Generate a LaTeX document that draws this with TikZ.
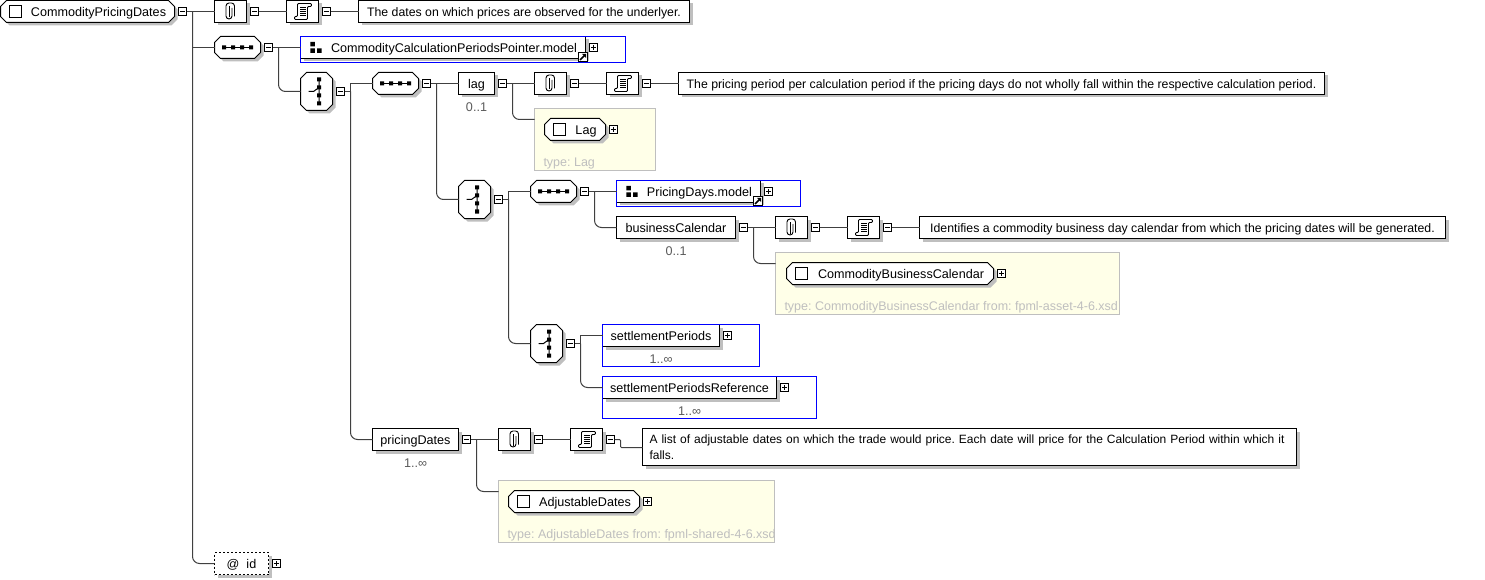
\documentclass[tikz,border=0pt]{standalone}
\usepackage{fontspec}
\setmainfont{Liberation Sans}
\usetikzlibrary{positioning,shadows}

\definecolor{linkgray}{gray}{0.25}
\definecolor{shadegray}{gray}{0.75}
\definecolor{notegray}{gray}{0.75}
\definecolor{occgray}{gray}{0.35}
\definecolor{typeyellow}{RGB}{255,255,232}

\newdimen\octaL
\newdimen\octaR
\newdimen\octaB
\newdimen\octaT
\makeatletter
\pgfdeclareshape{octabox}{
  \inheritsavedanchors[from=rectangle]
  \inheritanchorborder[from=rectangle]
  \inheritanchor[from=rectangle]{center}
  \inheritanchor[from=rectangle]{north}
  \inheritanchor[from=rectangle]{south}
  \inheritanchor[from=rectangle]{east}
  \inheritanchor[from=rectangle]{west}
  \inheritanchor[from=rectangle]{north west}
  \inheritanchor[from=rectangle]{north east}
  \inheritanchor[from=rectangle]{south west}
  \inheritanchor[from=rectangle]{south east}
  \backgroundpath{
    \southwest \octaL=\pgf@x \octaB=\pgf@y
    \northeast \octaR=\pgf@x \octaT=\pgf@y
    \pgfpathmoveto{\pgfpoint{\octaL+6pt}{\octaB}}
    \pgfpathlineto{\pgfpoint{\octaR-6pt}{\octaB}}
    \pgfpathlineto{\pgfpoint{\octaR}{\octaB+6pt}}
    \pgfpathlineto{\pgfpoint{\octaR}{\octaT-6pt}}
    \pgfpathlineto{\pgfpoint{\octaR-6pt}{\octaT}}
    \pgfpathlineto{\pgfpoint{\octaL+6pt}{\octaT}}
    \pgfpathlineto{\pgfpoint{\octaL}{\octaT-6pt}}
    \pgfpathlineto{\pgfpoint{\octaL}{\octaB+6pt}}
    \pgfpathclose
  }
}
\makeatother

\tikzset{
  clipicon/.pic={
    \draw[line width=.9pt,rounded corners=3pt] (1.5,-3.5) -- (1.5,7.5) -- (-4.5,7.5) -- (-4.5,-8.5) -- (4,-8.5) -- (4,5);
    \draw[line width=.9pt,rounded corners=1.5pt] (-1.5,-5.5) -- (-1.5,6);
  },
  docicon/.pic={
    \draw[line width=.9pt,rounded corners=1pt] (-8,5) -- (-5,5) -- (-5,-8) -- (9,-8) -- (9,-5) -- (5,-5) -- (5,8) -- (-8,8) -- cycle;
    \draw[line width=.8pt] (-2.5,-4) -- (3,-4) (-2.5,-2) -- (3,-2) (-2.5,0) -- (3,0) (-2.5,2) -- (3,2) (-2.5,4) -- (3,4);
  },
  seqicon/.pic={
    \draw (-13.5,0) -- (13.5,0);
    \fill (-15.5,-2) rectangle +(4,4) (-6.5,-2) rectangle +(4,4) (2.5,-2) rectangle +(4,4) (11.5,-2) rectangle +(4,4);
  },
  choiceicon/.pic={
    \draw (2.5,-12) -- (2.5,12) (-8,0) -- (-3,0) -- (2.5,-4);
    \fill (.5,-14) rectangle +(4,4) (.5,-6) rectangle +(4,4) (.5,2) rectangle +(4,4) (.5,10) rectangle +(4,4);
  },
  modelicon/.pic={
    \fill (-2.25,-5.5) rectangle +(4.5,4.5) (-2.25,1) rectangle +(4.5,4.5) (4.5,1) rectangle +(4.5,4.5);
  },
  linkicon/.pic={
    \draw[fill=white] (-4.5,-4.5) rectangle (4.5,4.5);
    \draw[line width=1.6pt] (-3,3) -- (1.5,-1.5);
    \fill (3.2,-3.2) -- (-1,-3.2) -- (3.2,1) -- cycle;
  }
}

\begin{document}
\frenchspacing
\begin{tikzpicture}[x=1pt,y=-1pt,line width=1pt,
    font=\fontsize{12.6}{15}\selectfont,
    every node/.style={outer sep=0pt,inner sep=0pt},
    link/.style={draw=linkgray},
    curvelink/.style={draw=linkgray,rounded corners=7pt},
    dropped/.style={drop shadow={shadow xshift=3pt,shadow yshift=-3pt,opacity=1,fill=shadegray}},
    plainbox/.style={draw,fill=white,dropped,anchor=north west,minimum height=22pt},
    wbox/.style={plainbox,text height=10pt,text depth=0pt},
    iconbox/.style={wbox,minimum width=32pt},
    octa/.style={shape=octabox,draw,fill=white,dropped,anchor=north west,minimum height=22pt,text height=10pt,text depth=0pt},
    seqbox/.style={octa,minimum width=46pt},
    choicebox/.style={octa,minimum width=32pt,minimum height=38pt},
    typed/.style={octa,execute at begin node={\hspace{22pt}}},
    blueframe/.style={draw=blue,anchor=north west},
    modelbox/.style={wbox,execute at begin node={\hspace{22pt}}},
    notebox/.style={draw=notegray,fill=typeyellow,anchor=north west,minimum height=62pt},
    typetext/.style={text=notegray,font=\fontsize{12.5}{15}\selectfont},
    sentence/.style={font=\fontsize{12.3}{16}\selectfont},
    occ/.style={text=occgray},
    check/.style={draw,fill=white,minimum size=12pt},
    toggle/.style={draw,fill=white,minimum size=8pt},
    minus/.style={toggle,path picture={\draw[line width=.8pt] (-2.5,0) -- (2.5,0);}},
    plus/.style={toggle,path picture={\draw[line width=.8pt] (-2.5,0) -- (2.5,0) (0,-2.5) -- (0,2.5);}}]

\useasboundingbox (0,0) rectangle (1485,580);

\node[typed,minimum width=174pt] (root) at (.5,.5) {CommodityPricingDates};
\node[check,right=9pt of root.west] (rootcheck) {};
\node[minus,right=4pt of root] (mroot) {};
\node[iconbox] (clip1) at (214.5,.5) {};
\node[minus,right=4pt of clip1] (mclip1) {};
\node[iconbox,right=28pt of mclip1] (doc1) {};
\node[minus,right=4pt of doc1] (mdoc1) {};
\node[wbox,sentence,right=28pt of mdoc1,minimum width=331pt] (text1) {The dates on which prices are observed for the underlyer.};

\node[seqbox] (seq1) at (214.5,36.5) {};
\node[minus,right=4pt of seq1] (mseq1) {};
\node[modelbox,minimum width=285pt] (ref1) at (300.5,36.5) {CommodityCalculationPeriodsPointer.model};
\node[blueframe,minimum width=325pt,minimum height=26pt] (frame1) at (300.5,36.5) {};
\node[plus,right=4pt of ref1] (pref1) {};

\node[choicebox] (choice1) at (300.5,72.5) {};
\node[minus,right=4pt of choice1] (mchoice1) {};
\node[seqbox] (seq2) at (372.5,72.5) {};
\node[minus,right=4pt of seq2] (mseq2) {};

\node[wbox,minimum width=36pt] (lag) at (458.5,72.5) {lag};
\node[occ,below=8pt of lag] (laghow) {0..1};
\node[minus,right=4pt of lag] (mlag) {};
\node[iconbox] (clip2) at (534.5,72.5) {};
\node[minus,right=4pt of clip2] (mclip2) {};
\node[iconbox,right=28pt of mclip2] (doc2) {};
\node[minus,right=4pt of doc2] (mdoc2) {};
\node[wbox,sentence,right=28pt of mdoc2,minimum width=646pt] (text2) {The pricing period per calculation period if the pricing days do not wholly fall within the respective calculation period.};

\node[notebox,minimum width=121pt] (type1) at (534.5,108.5) {};
\node[typed,minimum width=61pt] (lagtype) at (544.5,118.5) {Lag};
\node[check,right=9pt of lagtype.west] (lagcheck) {};
\node[plus,right=4pt of lagtype] (plagtype) {};
\node[typetext,above right=1pt and 9pt of type1.south west] (type1text) {type: Lag};

\node[choicebox] (choice2) at (458.5,180.5) {};
\node[minus,right=4pt of choice2] (mchoice2) {};
\node[seqbox] (seq3) at (530.5,180.5) {};
\node[minus,right=4pt of seq3] (mseq3) {};
\node[modelbox,minimum width=144pt] (ref2) at (616.5,180.5) {PricingDays.model};
\node[blueframe,minimum width=184pt,minimum height=26pt] (frame2) at (616.5,180.5) {};
\node[plus,right=4pt of ref2] (pref2) {};

\node[wbox,minimum width=119pt] (buscal) at (616.5,216.5) {businessCalendar};
\node[occ,below=8pt of buscal] (buscalhow) {0..1};
\node[minus,right=4pt of buscal] (mbuscal) {};
\node[iconbox] (clip3) at (775.5,216.5) {};
\node[minus,right=4pt of clip3] (mclip3) {};
\node[iconbox,right=28pt of mclip3] (doc3) {};
\node[minus,right=4pt of doc3] (mdoc3) {};
\node[wbox,sentence,right=28pt of mdoc3,minimum width=526pt] (text3) {Identifies a commodity business day calendar from which the pricing dates will be generated.};

\node[notebox,minimum width=344pt] (type2) at (775.5,252.5) {};
\node[typed,minimum width=207pt] (caltype) at (786.5,262.5) {CommodityBusinessCalendar};
\node[check,right=9pt of caltype.west] (calcheck) {};
\node[plus,right=4pt of caltype] (pcaltype) {};
\node[typetext,above right=1pt and 9pt of type2.south west] (type2text) {type: CommodityBusinessCalendar from: fpml-asset-4-6.xsd};

\node[choicebox] (choice3) at (530.5,324.5) {};
\node[minus,right=4pt of choice3] (mchoice3) {};
\node[wbox,minimum width=117pt] (settle) at (602.5,324.5) {settlementPeriods};
\node[blueframe,minimum width=157pt,minimum height=42pt] (frame3) at (602.5,324.5) {};
\node[occ,below=8pt of settle] (settlehow) {1..∞};
\node[plus,right=4pt of settle] (psettle) {};
\node[wbox,minimum width=174pt] (settleref) at (602.5,376.5) {settlementPeriodsReference};
\node[blueframe,minimum width=214pt,minimum height=42pt] (frame4) at (602.5,376.5) {};
\node[occ,below=8pt of settleref] (settlerefhow) {1..∞};
\node[plus,right=4pt of settleref] (psettleref) {};

\node[wbox,minimum width=86pt] (pricing) at (372.5,428.5) {pricingDates};
\node[occ,below=8pt of pricing] (pricinghow) {1..∞};
\node[minus,right=4pt of pricing] (mpricing) {};
\node[iconbox] (clip4) at (498.5,428.5) {};
\node[minus,right=4pt of clip4] (mclip4) {};
\node[iconbox,right=28pt of mclip4] (doc4) {};
\node[minus,right=4pt of doc4] (mdoc4) {};
\node[plainbox,font=\fontsize{12}{16}\selectfont,inner xsep=7pt,text width=640pt,align=left,minimum height=37pt] (text4) at (642.5,428.5) {A list of adjustable dates on which the trade would price. Each date will price for the Calculation Period within which it\\falls.};

\node[notebox,minimum width=276pt] (type3) at (498.5,480.5) {};
\node[typed,minimum width=131pt] (adjtype) at (508.5,490.5) {AdjustableDates};
\node[check,right=9pt of adjtype.west] (adjcheck) {};
\node[plus,right=4pt of adjtype] (padjtype) {};
\node[typetext,above right=1pt and 9pt of type3.south west] (type3text) {type: AdjustableDates from: fpml-shared-4-6.xsd};

\node[wbox,dash pattern=on 2pt off 2pt,minimum width=54pt] (id) at (214.5,552.5) {@\hspace{7pt}id\hspace{14pt}};
\node[plus,right=4pt of id] (pid) {};

\pic at (clip1) {clipicon};
\pic at (clip2) {clipicon};
\pic at (clip3) {clipicon};
\pic at (clip4) {clipicon};
\pic at (doc1) {docicon};
\pic at (doc2) {docicon};
\pic at (doc3) {docicon};
\pic at (doc4) {docicon};
\pic at (seq1) {seqicon};
\pic at (seq2) {seqicon};
\pic at (seq3) {seqicon};
\pic at (choice1) {choiceicon};
\pic at (choice2) {choiceicon};
\pic at (choice3) {choiceicon};
\pic at ([xshift=12pt]ref1.west) {modelicon};
\pic at ([xshift=12pt]ref2.west) {modelicon};
\pic at ([shift={(-2.5pt,1.5pt)}]ref1.south east) {linkicon};
\pic at ([shift={(-2.5pt,1.5pt)}]ref2.south east) {linkicon};

\coordinate (j0) at (192.5,11.5);
\coordinate (j1) at (278.5,47.5);
\coordinate (j2) at (350.5,91.5);
\coordinate (j3) at (436.5,83.5);
\coordinate (j4) at (512.5,83.5);
\coordinate (j5) at (508.5,199.5);
\coordinate (j6) at (594.5,191.5);
\coordinate (j7) at (753.5,227.5);
\coordinate (j8) at (580.5,343.5);
\coordinate (j9) at (476.5,439.5);
\coordinate (t1) at (534.5,119.5);
\coordinate (t2) at (775.5,263.5);
\coordinate (t3) at (498.5,491.5);
\coordinate (e4) at (620.5,447.5);

\draw[link] (mroot.east) -- (clip1.west);
\draw[link] (mclip1.east) -- (doc1.west);
\draw[link] (mdoc1.east) -- (text1.west);
\draw[curvelink] (j0) |- (id.west);
\draw[link] (j0 |- seq1.west) -- (seq1.west);

\draw[link] (mseq1.east) -- (ref1.west);
\draw[curvelink] (j1) |- (choice1.west);
\draw[link] (mchoice1.east) -- (j2);
\draw[link] (j2) |- (seq2.west);
\draw[curvelink] (j2) |- (pricing.west);
\draw[link] (mseq2.east) -- (lag.west);
\draw[curvelink] (j3) |- (choice2.west);

\draw[link] (mlag.east) -- (clip2.west);
\draw[link] (mclip2.east) -- (doc2.west);
\draw[link] (mdoc2.east) -- (text2.west);
\draw[curvelink] (j4) |- (t1);

\draw[link] (mchoice2.east) -- (j5);
\draw[link] (j5) |- (seq3.west);
\draw[curvelink] (j5) |- (choice3.west);
\draw[link] (mseq3.east) -- (ref2.west);
\draw[curvelink] (j6) |- (buscal.west);

\draw[link] (mbuscal.east) -- (clip3.west);
\draw[link] (mclip3.east) -- (doc3.west);
\draw[link] (mdoc3.east) -- (text3.west);
\draw[curvelink] (j7) |- (t2);

\draw[link] (mchoice3.east) -- (j8);
\draw[link] (j8) |- (settle.west);
\draw[curvelink] (j8) |- (settleref.west);

\draw[link] (mpricing.east) -- (clip4.west);
\draw[link] (mclip4.east) -- (doc4.west);
\draw[draw=linkgray,rounded corners=1pt] (mdoc4.east) -| (e4) -- (e4 -| text4.west);
\draw[curvelink] (j9) |- (t3);

\end{tikzpicture}
\end{document}
